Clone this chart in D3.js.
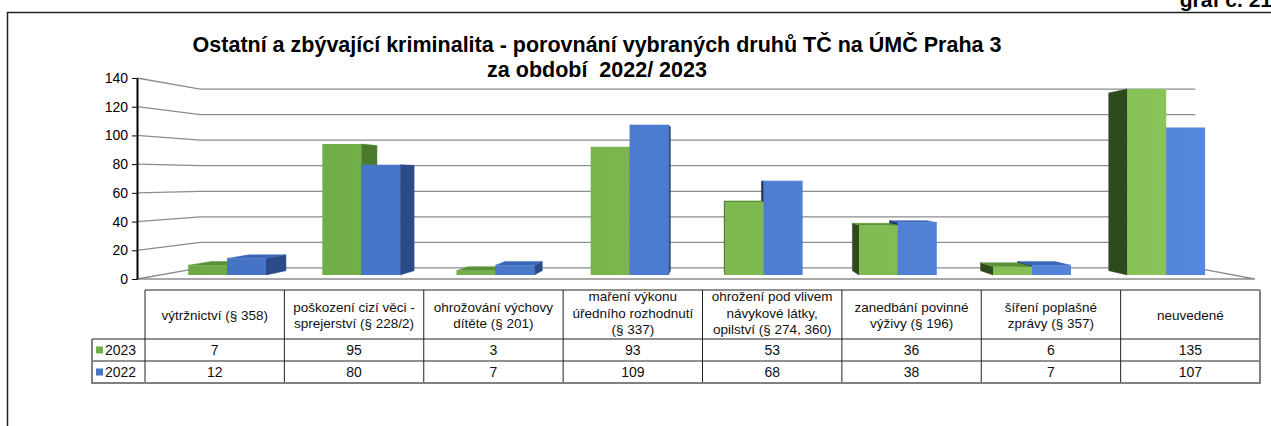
<!DOCTYPE html>
<html><head><meta charset="utf-8">
<script src="https://cdn.jsdelivr.net/npm/d3@7"></script>
<style>
html,body{margin:0;padding:0;background:#fff;}
svg{display:block;font-family:"Liberation Sans",Arial,sans-serif;}
text{white-space:pre;}
</style></head>
<body><svg id="c" width="1271" height="426"></svg>
<script>
// ---- data ----
const categories = [
  ["výtržnictví (§ 358)"],
  ["poškození cizí věci -", "sprejerství (§ 228/2)"],
  ["ohrožování výchovy", "dítěte (§ 201)"],
  ["maření výkonu", "úředního rozhodnutí", "(§ 337)"],
  ["ohrožení pod vlivem", "návykové látky,", "opilství (§ 274, 360)"],
  ["zanedbání povinné", "výživy (§ 196)"],
  ["šíření poplašné", "zprávy (§ 357)"],
  ["neuvedené"]
];
const seriesNames = ["2023", "2022"];
const values2023 = [7, 95, 3, 93, 53, 36, 6, 135];
const values2022 = [12, 80, 7, 109, 68, 38, 7, 107];
const yTicks = [0, 20, 40, 60, 80, 100, 120, 140];
const titleLines = ["Ostatní a zbývající kriminalita - porovnání vybraných druhů TČ na ÚMČ Praha 3", "za období  2022/ 2023"];
const cornerLabel = "graf č. 21";

// ---- setup ----
const svg = d3.select("#c");
const series = [values2023, values2022];
const n = categories.length;

// frame
svg.append("path").attr("d", "M7.5,426 V12.5 H1271").attr("fill", "none").attr("stroke", "#222").attr("stroke-width", 1.5);
svg.append("text").attr("x", 1272).attr("y", 7).attr("text-anchor", "end")
  .attr("font-size", 21).attr("font-weight", "bold").text(cornerLabel);

// title
svg.append("g").selectAll("text").data(titleLines).join("text")
  .attr("x", 597).attr("y", (d, i) => 52 + i * 25).attr("text-anchor", "middle")
  .attr("font-size", 21.5).attr("font-weight", "bold").attr("fill", "#000").text(d => d);

// 3D perspective
const VP = { x: 712, y: 178.5 };
const P = (X, Y, s) => [VP.x + (X - VP.x) * s, VP.y + (Y - VP.y) * s];
const S_BACK = 0.89, S_BAR_F = 0.96, S_BAR_B = 0.917;
const X0 = 137, X1 = 1255;

const y = d3.scaleLinear().domain([0, 140]).range([279, 78]);
const x = d3.scaleBand().domain(d3.range(n)).range([X0, X1]).paddingInner(0.42).paddingOuter(0.21);
const xs = d3.scaleBand().domain(seriesNames).range([0, x.bandwidth()]);

const line = d3.line();
// gridlines
const grid = svg.append("g");
yTicks.forEach(v => {
  grid.append("path").attr("d", line([P(X0, y(v), 1), P(X0, y(v), S_BACK), P(X1, y(v), S_BACK)]))
    .attr("fill", "none").attr("stroke", "#8c8c8c").attr("stroke-width", 1.3);
});
// floor front & right edges
grid.append("path").attr("d", line([P(X0, y(0), 1), P(X1, y(0), 1), P(X1, y(0), S_BACK)]))
  .attr("fill", "none").attr("stroke", "#8c8c8c").attr("stroke-width", 1.3);

// gradients
const defs = svg.append("defs");
function grad(id, c0, c1) {
  const g = defs.append("linearGradient").attr("id", id).attr("gradientUnits", "userSpaceOnUse")
    .attr("x1", X0).attr("x2", X1).attr("y1", 0).attr("y2", 0);
  g.append("stop").attr("offset", 0).attr("stop-color", c0);
  g.append("stop").attr("offset", 1).attr("stop-color", c1);
}
grad("gG", "#6CA944", "#8CC55B");
grad("gB", "#4371C3", "#5688DC");
const colors = {
  "2023": { front: "url(#gG)", right: "#4A7A2C", left: "#2D4A1D", top: "#5A9136", legend: "#70AD47" },
  "2022": { front: "url(#gB)", right: "#2A4B87", left: "#1E3665", top: "#3A66B6", legend: "#4472C4" }
};

// bars
const bars = [];
categories.forEach((c, i) => {
  seriesNames.forEach((s, j) => {
    const bx0 = x(i) + xs(s), bx1 = bx0 + xs.bandwidth();
    bars.push({ i, s, v: series[j][i], bx0, bx1, dist: Math.abs((bx0 + bx1) / 2 - VP.x) });
  });
});
bars.sort((a, b) => b.dist - a.dist);
const gb = svg.append("g");
bars.forEach(b => {
  const col = colors[b.s];
  const yb = y(0), yt = y(b.v);
  const poly = (pts, fill) => gb.append("path").attr("d", line(pts) + "Z").attr("fill", fill)
    .attr("stroke", fill.startsWith("url") ? "none" : fill).attr("stroke-width", 0.5);
  if (b.bx1 < VP.x) {
    poly([P(b.bx1, yb, S_BAR_F), P(b.bx1, yb, S_BAR_B), P(b.bx1, yt, S_BAR_B), P(b.bx1, yt, S_BAR_F)], col.right);
  } else if (b.bx0 > VP.x) {
    poly([P(b.bx0, yb, S_BAR_F), P(b.bx0, yb, S_BAR_B), P(b.bx0, yt, S_BAR_B), P(b.bx0, yt, S_BAR_F)], col.left);
  }
  if (yt > VP.y) {
    poly([P(b.bx0, yt, S_BAR_F), P(b.bx1, yt, S_BAR_F), P(b.bx1, yt, S_BAR_B), P(b.bx0, yt, S_BAR_B)], col.top);
  }
  poly([P(b.bx0, yb, S_BAR_F), P(b.bx1, yb, S_BAR_F), P(b.bx1, yt, S_BAR_F), P(b.bx0, yt, S_BAR_F)], col.front);
});

// y axis
const ax = svg.append("g").attr("transform", `translate(${X0},0)`)
  .call(d3.axisLeft(y).tickValues(yTicks).tickSize(5).tickSizeOuter(0).tickPadding(4));
ax.select(".domain").attr("stroke", "#000").attr("stroke-width", 2);
ax.selectAll(".tick line").attr("stroke", "#000");
ax.selectAll(".tick text").attr("font-size", 14).attr("fill", "#000")
  .attr("font-family", '"Liberation Sans",Arial,sans-serif');

// data table
const tx = d3.scaleBand().domain(d3.range(n)).range([145, 1260]);
const T = { top: 290, h1: 339, h2: 361, bottom: 383, left: 92 };
const tb = svg.append("g");
const L = (x1, y1, x2, y2, c, w) => tb.append("line").attr("x1", x1).attr("y1", y1).attr("x2", x2).attr("y2", y2)
  .attr("stroke", c).attr("stroke-width", w);
L(145, T.top, 1260, T.top, "#222", 1);
d3.range(n).forEach(i => L(tx(i), T.top, tx(i), T.bottom, "#222", 1));
L(T.left, T.h1, 1260, T.h1, "#222", 1);
L(T.left, T.h2, 1260, T.h2, "#222", 1);
L(T.left, T.h1, T.left, T.bottom, "#808080", 2);
L(T.left - 1, T.bottom, 1261, T.bottom, "#808080", 2);
L(1260, T.top, 1260, T.bottom, "#808080", 2);

categories.forEach((lines, i) => {
  const cx = tx(i) + tx.bandwidth() / 2;
  const mid = lines.length === 3 ? 313 : 315;
  lines.forEach((t, k) => {
    tb.append("text").attr("x", cx).attr("y", mid + (k - (lines.length - 1) / 2) * 16.5 + 4.8)
      .attr("text-anchor", "middle").attr("font-size", 13.5).attr("fill", "#111").text(t);
  });
  series.forEach((vals, j) => {
    tb.append("text").attr("x", cx).attr("y", (j === 0 ? 350 : 372) + 5)
      .attr("text-anchor", "middle").attr("font-size", 14).attr("fill", "#111").text(vals[i]);
  });
});
seriesNames.forEach((s, j) => {
  const cy = j === 0 ? 350 : 372;
  tb.append("rect").attr("x", 96).attr("y", cy - 3.5).attr("width", 7).attr("height", 7).attr("fill", colors[s].legend);
  tb.append("text").attr("x", 105).attr("y", cy + 5).attr("font-size", 14).attr("fill", "#111").text(s);
});
</script></body></html>
